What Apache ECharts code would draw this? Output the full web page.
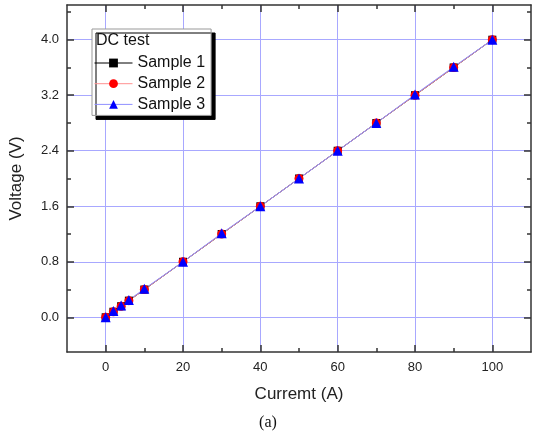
<!DOCTYPE html>
<html>
<head>
<meta charset="utf-8">
<script src="https://cdn.jsdelivr.net/npm/echarts@6/dist/echarts.min.js"></script>
<style>
  html, body { margin: 0; padding: 0; background: #fff; }
  #chart { width: 536px; height: 436px; }
</style>
</head>
<body>
<div id="chart"></div>
<script>
  // current (A) and measured voltage (V)
  var current = [0, 2, 4, 6, 10, 20, 30, 40, 50, 60, 70, 80, 90, 100];
  var sample1 = [0.0, 0.08, 0.16, 0.24, 0.40, 0.80, 1.20, 1.60, 2.00, 2.40, 2.80, 3.20, 3.60, 4.00];
  var sample2 = [0.0, 0.08, 0.16, 0.24, 0.40, 0.80, 1.20, 1.60, 2.00, 2.40, 2.80, 3.20, 3.60, 4.00];
  var sample3 = [0.0, 0.09, 0.17, 0.25, 0.41, 0.80, 1.21, 1.60, 2.00, 2.40, 2.80, 3.21, 3.61, 4.00];

  var xTicks = [0, 20, 40, 60, 80, 100];
  var xMinor = [10, 30, 50, 70, 90];
  var yTicks = [0, 0.8, 1.6, 2.4, 3.2, 4.0];
  var yMinor = [0.4, 1.2, 2.0, 2.8, 3.6, 4.4];

  function pairs(xs, ys) {
    return xs.map(function (x, i) { return [x, ys[i]]; });
  }

  var font = 'Liberation Sans, Arial, sans-serif';
  var frame = { show: true, onZero: false, lineStyle: { color: '#333', width: 1.5 } };
  var noLine = { show: false, onZero: false };
  var grid = { show: true, lineStyle: { color: '#a8a8ff', width: 1 } };

  function xAx(pos, vals, len, main) {
    return {
      type: 'value', position: pos, min: -10, max: 110,
      axisLine: main ? frame : noLine,
      axisTick: { show: true, inside: true, length: len, customValues: vals,
                  lineStyle: { color: '#333', width: 1.5 } },
      axisLabel: { show: main && pos === 'bottom', customValues: vals, margin: 9,
                   fontSize: 13, color: '#222', fontFamily: font },
      splitLine: (main && pos === 'bottom') ? grid : { show: false },
      name: (main && pos === 'bottom') ? 'Curremt (A)' : '',
      nameLocation: 'middle', nameGap: 34,
      nameTextStyle: { fontSize: 17, color: '#222', fontFamily: font }
    };
  }
  function yAx(pos, vals, len, main) {
    return {
      type: 'value', position: pos, min: -0.5, max: 4.5,
      axisLine: main ? frame : noLine,
      axisTick: { show: true, inside: true, length: len, customValues: vals,
                  lineStyle: { color: '#333', width: 1.5 } },
      axisLabel: { show: main && pos === 'left', customValues: vals, margin: 8,
                   fontSize: 13, color: '#222', fontFamily: font,
                   formatter: function (v) { return v.toFixed(1); } },
      splitLine: (main && pos === 'left') ? grid : { show: false },
      name: (main && pos === 'left') ? 'Voltage (V)' : '',
      nameLocation: 'middle', nameGap: 42,
      nameTextStyle: { fontSize: 17, color: '#222', fontFamily: font }
    };
  }

  var chart = echarts.init(document.getElementById('chart'));
  chart.setOption({
    animation: false,
    backgroundColor: '#fff',
    grid: { left: 64, right: 5, top: 5, bottom: 84 },
    xAxis: [
      xAx('bottom', xTicks, 7, true),
      xAx('top', xTicks, 7, true),
      xAx('bottom', xMinor, 4, false),
      xAx('top', xMinor, 4, false)
    ],
    yAxis: [
      yAx('left', yTicks, 7, true),
      yAx('right', yTicks, 7, true),
      yAx('left', yMinor, 4, false),
      yAx('right', yMinor, 4, false)
    ],
    legend: {
      orient: 'vertical', left: 92, top: 29,
      padding: [26, 6, 3, 2], itemGap: 4.7, itemWidth: 38, itemHeight: 11,
      backgroundColor: '#fff', borderColor: '#999', borderWidth: 1,
      shadowColor: '#000', shadowBlur: 0, shadowOffsetX: 4, shadowOffsetY: 4,
      lineStyle: { width: 1 },
      textStyle: { fontSize: 16, color: '#111', fontFamily: font },
      data: ['Sample 1', 'Sample 2', 'Sample 3']
    },
    graphic: [{
      type: 'text', left: 96, top: 33, z: 100,
      style: { text: 'DC test', font: '16px Liberation Sans, Arial, sans-serif', fill: '#111' }
    }, {
      type: 'text', left: 'center', top: 415,
      style: { text: '(a)', font: '16px Liberation Serif, Times New Roman, serif', fill: '#111' }
    }],
    series: [{
      name: 'Sample 1', type: 'line', data: pairs(current, sample1),
      symbol: 'rect', symbolSize: 8,
      itemStyle: { color: '#000' }, lineStyle: { color: '#000', width: 1 }
    }, {
      name: 'Sample 2', type: 'line', data: pairs(current, sample2),
      symbol: 'circle', symbolSize: 9,
      itemStyle: { color: '#ff0000' }, lineStyle: { color: '#ff9090', width: 1 }
    }, {
      name: 'Sample 3', type: 'line', data: pairs(current, sample3),
      symbol: 'triangle', symbolSize: 10,
      itemStyle: { color: '#0000ff' }, lineStyle: { color: '#9090ff', width: 1 }
    }]
  });
</script>
</body>
</html>
